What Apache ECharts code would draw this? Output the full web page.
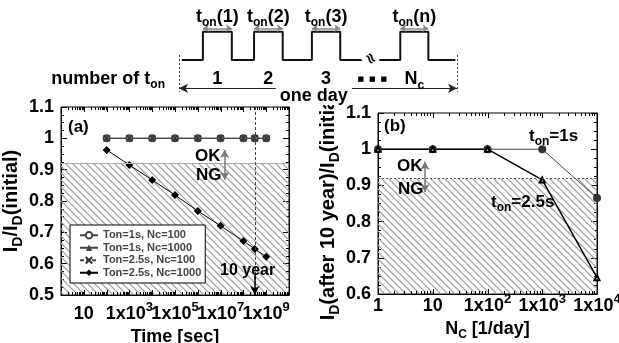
<!DOCTYPE html>
<html>
<head>
<meta charset="utf-8">
<script src="https://cdn.jsdelivr.net/npm/echarts@6/dist/echarts.min.js"></script>
<style>
  html, body { margin: 0; padding: 0; background: #fff; }
  #chart { width: 619px; height: 343px; }
</style>
</head>
<body>
<div id="chart"></div>
<script>
// (a) I_D/I_D(initial) vs stress time
const timeSec = [1e2, 1e3, 1e4, 1e5, 1e6, 1e7, 1e8, 3.15e8, 1e9];
const ton1Nc100 = [1.0, 1.0, 1.0, 1.0, 1.0, 1.0, 1.0, 1.0, 1.0];
const ton1Nc1000 = [1.0, 1.0, 1.0, 1.0, 1.0, 1.0, 1.0, 1.0, 1.0];
const ton25Nc100 = [1.0, 1.0, 1.0, 1.0, 1.0, 1.0, 1.0, 1.0, 1.0];
const ton25Nc1000 = [0.963, 0.915, 0.867, 0.819, 0.768, 0.721, 0.672, 0.647, 0.622];
const timeLabelExp = [1, 3, 5, 7, 9];
const tenYearSec = 3.15e8;
const limitRatio = 0.92;

// (b) I_D after 10 years vs cycles per day
const ncPerDay = [1, 10, 100, 1000, 10000];
const after10yTon1 = [1.0, 1.0, 1.0, 1.0, 0.865];
const after10yTon25 = [1.0, 1.0, 1.0, 0.915, 0.645];
const ncLabelExp = [0, 1, 2, 3, 4];

// schematic: one day = 0..100
const pulseRise = [8.6, 27.0, 47.8, 79.6];
const pulseFall = [19.0, 37.3, 58.0, 89.7];
const pulseNames = ['1', '2', '3', 'n'];
const countNames = ['1', '2', '3', null, 'Nc'];
const waveStart = 1, waveEnd = 99.4, breakAt = 69.5;

const legendNames = ['Ton=1s, Nc=100', 'Ton=1s, Nc=1000', 'Ton=2.5s, Nc=100', 'Ton=2.5s, Nc=1000'];

const F = '"Liberation Sans", Arial, sans-serif';

function tok(size, lh, va, extra) {
  return Object.assign({ fontFamily: F, fontWeight: 'bold', fontSize: size, lineHeight: lh,
    color: '#000', fill: '#000', verticalAlign: va }, extra || {});
}
const supRich = { m: tok(18, 26), p: tok(13, 13, 'top') };
function subRich(size) {
  return { m: tok(size, Math.round(size * 1.35)), s: tok(Math.round(size * 0.68), Math.round(size * 0.68), 'bottom') };
}

function expLabel(v, list) {
  const e = Math.round(Math.log10(v));
  if (list.indexOf(e) < 0) return '';
  if (e === 0) return '{m|1}';
  if (e === 1) return '{m|10}';
  return '{m|1x10}{p|' + e + '}';
}

function decadeTicks(lo, hi) {
  const out = [];
  for (let e = lo; e <= hi; e++) out.push(Math.pow(10, e));
  return out;
}
function minorLogTicks(lo, hi) {
  const out = [];
  for (let e = lo; e < hi; e++) for (let k = 2; k <= 9; k++) out.push(k * Math.pow(10, e));
  return out;
}

function hatch() {
  const c = document.createElement('canvas');
  c.width = 7; c.height = 7;
  const g = c.getContext('2d');
  g.strokeStyle = '#9a9a9a';
  g.lineWidth = 1.2;
  g.beginPath();
  g.moveTo(-1, -1); g.lineTo(8, 8);
  g.moveTo(-1, 6); g.lineTo(1, 8);
  g.moveTo(6, -1); g.lineTo(8, 1);
  g.stroke();
  return c;
}
const hatchColor = { image: hatch(), repeat: 'repeat' };

function zip(xs, ys) { return xs.map((x, i) => [x, ys[i]]); }

function logTicks(xi, yi, vals, yLo, yHi, len) {
  return {
    type: 'custom', xAxisIndex: xi, yAxisIndex: yi, silent: true, clip: false, z: 10,
    data: vals.map(v => [v, yLo]),
    renderItem: (p, api) => {
      const b = api.coord([api.value(0), yLo]);
      const t = api.coord([api.value(0), yHi]);
      const x = Math.round(b[0]) + 0.5;
      const st = { stroke: '#000', lineWidth: 1 };
      return { type: 'group', children: [
        { type: 'line', shape: { x1: x, y1: b[1], x2: x, y2: b[1] - len }, style: st },
        { type: 'line', shape: { x1: x, y1: t[1], x2: x, y2: t[1] + len }, style: st }
      ] };
    }
  };
}

function yAx(grid, min, max, pos, showLabel, name, gap) {
  const a = {
    type: 'value', gridIndex: grid, min: min, max: max, interval: 0.1, position: pos,
    axisLine: { show: true, lineStyle: { color: '#000', width: 1 } },
    axisTick: { show: true, inside: true, length: 6, lineStyle: { color: '#000' } },
    minorTick: { show: true, splitNumber: 4, length: 3, lineStyle: { color: '#000' } },
    splitLine: { show: false }, minorSplitLine: { show: false },
    axisLabel: { show: showLabel, margin: 7, fontFamily: F, fontWeight: 'bold', fontSize: 18,
      color: '#000', padding: [0, 0, 5, 0] }
  };
  if (name) {
    a.name = name; a.nameLocation = 'middle'; a.nameRotate = 90; a.nameGap = gap;
    a.nameTextStyle = { fontFamily: F, fontWeight: 'bold', fontSize: 20, color: '#000', rich: subRich(20) };
  }
  return a;
}

function xLog(grid, min, max, list, margin, name, gap) {
  return {
    type: 'log', logBase: 10, gridIndex: grid, min: min, max: max,
    axisLine: { show: true, lineStyle: { color: '#000', width: 1 } },
    axisTick: { show: false }, minorTick: { show: false },
    splitLine: { show: false }, minorSplitLine: { show: false },
    axisLabel: { show: true, margin: margin, formatter: v => expLabel(v, list), rich: supRich },
    name: name, nameLocation: 'middle', nameGap: gap,
    nameTextStyle: { fontFamily: F, fontWeight: 'bold', fontSize: 18, color: '#000', rich: subRich(18) }
  };
}

function gText(x, y, text, size, align, rich) {
  return { type: 'text', x: x, y: y, z: 100, silent: true,
    style: { text: text, fill: '#000', font: 'bold ' + size + 'px ' + F, align: align || 'left',
      verticalAlign: 'middle', rich: rich } };
}

function arrowLine(x1, y1, x2, y2, color, width, s1, s2, size) {
  const ls = { color: color, width: width, type: 'solid' };
  return [
    { coord: [x1, y1], symbol: s1, symbolSize: size, lineStyle: ls },
    { coord: [x2, y2], symbol: s2, symbolSize: size, lineStyle: ls }
  ];
}

// waveform built from the pulse edges
const wave = [[waveStart, 0]];
pulseRise.forEach((r, i) => { wave.push([r, 0], [r, 1], [pulseFall[i], 1], [pulseFall[i], 0]); });
wave.push([waveEnd, 0]);

const pulseMid = pulseRise.map((r, i) => (r + pulseFall[i]) / 2);
const countPos = [pulseMid[0], pulseMid[1], pulseMid[2], breakAt, pulseMid[3]];

const schemRich = {
  m: tok(18, 24), s: tok(12, 12, 'bottom'),
  d: tok(7, 24, null, { fontFamily: 'DejaVu Sans' }),
  w: tok(18, 20, null, { backgroundColor: '#fff', padding: [0, 4] })
};

const lineBase = { type: 'line', animation: false };

const option = {
  animation: false,
  backgroundColor: '#fff',
  textStyle: { fontFamily: F },
  grid: [
    { left: 61, right: 330, top: 107, bottom: 48, show: true, borderColor: '#000', borderWidth: 1,
      backgroundColor: 'transparent', containLabel: false, outerBoundsMode: 'none' },
    { left: 378, right: 22, top: 113, bottom: 49, show: true, borderColor: '#000', borderWidth: 1,
      backgroundColor: 'transparent', containLabel: false, outerBoundsMode: 'none' },
    { left: 179, right: 162, top: 14.7, bottom: 240.5, show: false, containLabel: false, outerBoundsMode: 'none' }
  ],
  xAxis: [
    xLog(0, 1, 9.99e9, timeLabelExp, 6, 'Time [sec]', 24),
    xLog(1, 1, 1e4, ncLabelExp, -1, '{m|N}{s|C}{m| [1/day]}', 23),
    { type: 'value', gridIndex: 2, min: 0, max: 100, show: false }
  ],
  yAxis: [
    yAx(0, 0.5, 1.1, 'left', true, '{m|I}{s|D}{m|/I}{s|D}{m|(initial)}', 33),
    yAx(0, 0.5, 1.1, 'right', false),
    yAx(1, 0.6, 1.1, 'left', true, '{m|I}{s|D}{m|(after 10 year)/I}{s|D}{m|(initial)}', 34),
    yAx(1, 0.6, 1.1, 'right', false),
    { type: 'value', gridIndex: 2, min: -1.5, max: 1.6, show: false }
  ],
  legend: {
    orient: 'vertical', left: 70, top: 225, padding: [4, 4, 4, 9], itemGap: 0,
    itemWidth: 18, itemHeight: 8, backgroundColor: '#fff', borderColor: '#000', borderWidth: 1,
    borderRadius: 0, selectedMode: false, z: 20,
    textStyle: { fontFamily: F, fontWeight: 'bold', fontSize: 11, color: '#444', lineHeight: 12.5 },
    data: legendNames
  },
  series: [
    Object.assign({}, lineBase, {
      name: legendNames[0], xAxisIndex: 0, yAxisIndex: 0, data: zip(timeSec, ton1Nc100),
      symbol: 'emptyCircle', symbolSize: 6,
      lineStyle: { color: '#444', width: 1 }, itemStyle: { color: '#444', borderWidth: 1 },
      markArea: { silent: true, itemStyle: { color: hatchColor },
        data: [[{ yAxis: 0.5 }, { yAxis: limitRatio }]] },
      markLine: { silent: true, symbol: 'none', label: { show: false }, animation: false,
        data: [
          { yAxis: limitRatio, lineStyle: { color: '#aaa', width: 1, type: 'solid' } },
          { xAxis: tenYearSec, lineStyle: { color: '#444', width: 1, type: [3, 2] } },
          arrowLine(tenYearSec, 0.565, tenYearSec, 0.5, '#000', 1.5, 'none', 'arrow', [7, 9]),
          arrowLine(1.5e7, 0.963, 1.5e7, 0.868, '#777', 1.5, 'arrow', 'arrow', [7, 8])
        ] }
    }),
    Object.assign({}, lineBase, {
      name: legendNames[1], xAxisIndex: 0, yAxisIndex: 0, data: zip(timeSec, ton1Nc1000),
      symbol: 'triangle', symbolSize: 6,
      lineStyle: { color: '#444', width: 1 }, itemStyle: { color: '#444' }
    }),
    Object.assign({}, lineBase, {
      name: legendNames[2], xAxisIndex: 0, yAxisIndex: 0, data: zip(timeSec, ton25Nc100),
      symbol: 'path://M0,0L10,10M10,0L0,10', symbolSize: 6,
      lineStyle: { color: '#444', width: 1, type: [4, 2] },
      itemStyle: { color: '#333', borderColor: '#333', borderWidth: 1.5 }
    }),
    Object.assign({}, lineBase, {
      name: legendNames[3], xAxisIndex: 0, yAxisIndex: 0, data: zip(timeSec, ton25Nc1000),
      symbol: 'diamond', symbolSize: 8,
      lineStyle: { color: '#000', width: 1 }, itemStyle: { color: '#000' }
    }),
    logTicks(0, 0, decadeTicks(1, 9), 0.5, 1.1, 5),
    logTicks(0, 0, minorLogTicks(0, 10), 0.5, 1.1, 3),

    Object.assign({}, lineBase, {
      name: 'ton=1s', xAxisIndex: 1, yAxisIndex: 2, data: zip(ncPerDay, after10yTon1), clip: false,
      symbol: 'circle', symbolSize: 8,
      lineStyle: { color: '#444', width: 1 }, itemStyle: { color: '#333' },
      markArea: { silent: true, itemStyle: { color: hatchColor },
        data: [[{ yAxis: 0.6 }, { yAxis: limitRatio }]] },
      markLine: { silent: true, symbol: 'none', label: { show: false }, animation: false,
        data: [
          { yAxis: limitRatio, lineStyle: { color: '#555', width: 1, type: [2, 2] } },
          arrowLine(7.2, 0.965, 7.2, 0.882, '#777', 1.5, 'arrow', 'arrow', [7, 8])
        ] }
    }),
    Object.assign({}, lineBase, {
      name: 'ton=2.5s', xAxisIndex: 1, yAxisIndex: 2, data: zip(ncPerDay, after10yTon25), clip: false,
      symbol: 'emptyTriangle', symbolSize: 5,
      lineStyle: { color: '#000', width: 1.5 }, itemStyle: { color: '#000', borderWidth: 1 }
    }),
    logTicks(1, 2, decadeTicks(1, 3), 0.6, 1.1, 5),
    logTicks(1, 2, minorLogTicks(0, 4), 0.6, 1.1, 3),

    Object.assign({}, lineBase, {
      name: 'wave', xAxisIndex: 2, yAxisIndex: 4, data: wave, symbol: 'none', silent: true,
      lineStyle: { color: '#111', width: 2 },
      markLine: { silent: true, symbol: 'none', label: { show: false }, animation: false,
        data: pulseRise.map((r, i) => arrowLine(r, 1.12, pulseFall[i], 1.12, '#888', 1.5, 'arrow', 'arrow', [6, 6]))
          .concat([
            arrowLine(0, -1.0, 100, -1.0, '#222', 1.2, 'arrow', 'arrow', [7, 9]),
            [{ coord: [0, 0.18], lineStyle: { color: '#333', width: 1, type: [2, 2] } }, { coord: [0, -1.12] }],
            [{ coord: [100, 0.18], lineStyle: { color: '#333', width: 1, type: [2, 2] } }, { coord: [100, -1.12] }]
          ]) },
      markPoint: { silent: true, symbol: 'circle', symbolSize: 0, animation: false,
        label: { show: true, position: 'inside', formatter: p => p.name, rich: schemRich },
        data: pulseMid.map((x, i) => ({ name: '{m|t}{s|on}{m|(' + pulseNames[i] + ')}', coord: [x, 1.52] }))
          .concat(countPos.map((x, i) => ({
            name: countNames[i] === null ? '{d|\u25A0  \u25A0  \u25A0}'
              : countNames[i] === 'Nc' ? '{m|N}{s|c}' : '{m|' + countNames[i] + '}',
            coord: [x, -0.68] })))
          .concat([{ name: '{w|one day}', coord: [48.5, -1.27] }])
      }
    })
  ],
  graphic: [
    gText(165, 79, '{m|number of t}{s|on}', 18, 'right', schemRich),
    { type: 'text', x: 370, y: 59, rotation: -1.0, z: 100, silent: true,
      style: { text: '\u2248', fill: '#000', font: 'bold 15px "DejaVu Sans"', align: 'center',
        verticalAlign: 'middle', backgroundColor: '#fff' } },
    gText(68, 127, '(a)', 17),
    gText(195, 156, 'OK', 17),
    gText(196, 175.5, 'NG', 17),
    gText(220, 271, '10 year', 16),
    gText(384, 126.7, '(b)', 17),
    gText(397, 166, 'OK', 17),
    gText(398, 189.5, 'NG', 17),
    gText(529, 136, '{m|t}{s|on}{m|=1s}', 17, 'left', subRich(17)),
    gText(491, 202, '{m|t}{s|on}{m|=2.5s}', 17, 'left', subRich(17))
  ]
};

const chart = echarts.init(document.getElementById('chart'), null, { renderer: 'canvas' });
chart.setOption(option);
</script>
</body>
</html>
